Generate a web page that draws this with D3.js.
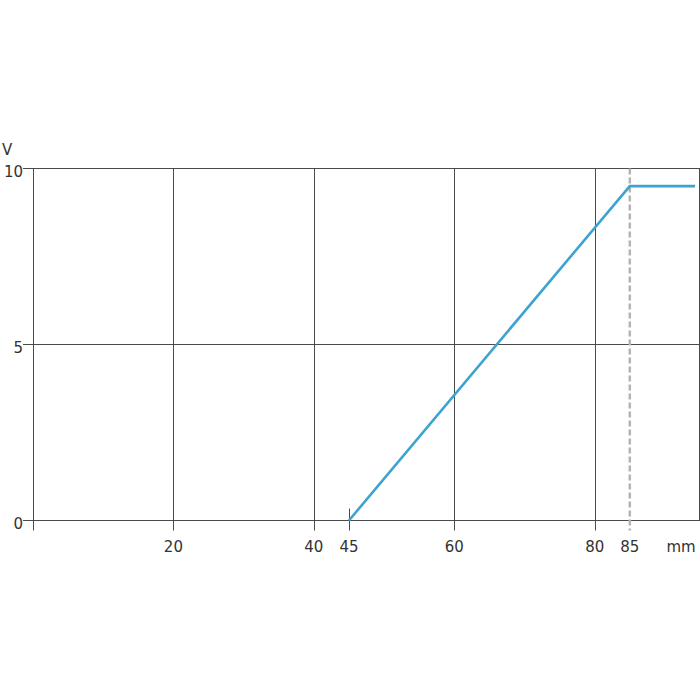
<!DOCTYPE html>
<html><head><meta charset="utf-8">
<script src="https://cdn.jsdelivr.net/npm/d3@7"></script>
<style>body{margin:0;background:#fff}svg{display:block}</style>
</head><body>
<script>
// Data
const xGridTicks = [20, 40, 60, 80];
const xLabelTicks = [20, 40, 45, 60, 80, 85];
const yTicks = [0, 5, 10];
const lineX = [45, 85, 94.3];
const lineY = [0, 9.5, 9.5];
const markerTick = 45;
const dashedTick = 85;
const xUnit = "mm";
const yUnit = "V";

(function () {
const W = 700, H = 700;
const svg = d3.select("body").append("svg").attr("width", W).attr("height", H);
const x = d3.scaleLinear().domain([0, 95]).range([33, 700]);
const y = d3.scaleLinear().domain([0, 10]).range([520.5, 168.5]);
const gridColor = "#4a4a4a";
const font = "DejaVu Sans, Verdana, sans-serif";
const yTop = y(10), yBottom = y(0);

// horizontal grid lines incl. outward ticks
svg.append("g").selectAll("line").data(yTicks).join("line")
  .attr("x1", 23).attr("x2", 700)
  .attr("y1", d => y(d)).attr("y2", d => y(d))
  .attr("stroke", gridColor).attr("stroke-width", 1);

// left axis
svg.append("line").attr("x1", x(0) + 0.5).attr("x2", x(0) + 0.5)
  .attr("y1", yTop).attr("y2", yBottom + 10).attr("stroke", gridColor);
// right border
svg.append("line").attr("x1", 699.5).attr("x2", 699.5)
  .attr("y1", yTop).attr("y2", yBottom).attr("stroke", gridColor);

// vertical grid lines
svg.append("g").selectAll("line").data(xGridTicks).join("line")
  .attr("x1", d => Math.round(x(d)) + 0.5).attr("x2", d => Math.round(x(d)) + 0.5)
  .attr("y1", yTop).attr("y2", yBottom + 10)
  .attr("stroke", gridColor).attr("stroke-width", 1);

// short tick at 45
svg.append("line")
  .attr("x1", Math.round(x(markerTick)) + 0.5).attr("x2", Math.round(x(markerTick)) + 0.5)
  .attr("y1", yBottom - 12).attr("y2", yBottom + 10)
  .attr("stroke", gridColor);

// dashed line at 85
svg.append("line")
  .attr("x1", x(dashedTick)).attr("x2", x(dashedTick))
  .attr("y1", yTop).attr("y2", yBottom + 10)
  .attr("stroke", "#b4b4b4").attr("stroke-width", 2.5)
  .attr("stroke-dasharray", "6,3");

// data line
const pts = lineX.map((d, i) => [d, lineY[i]]);
svg.append("path").datum(pts)
  .attr("d", d3.line().x(d => x(d[0])).y(d => y(d[1])))
  .attr("fill", "none").attr("stroke", "#3ea3d2").attr("stroke-width", 2.6);

// y labels
svg.append("g").selectAll("text").data(yTicks).join("text")
  .attr("x", 23).attr("y", d => y(d) + 8)
  .attr("text-anchor", "end")
  .attr("font-family", font).attr("font-size", 15).attr("fill", "#333")
  .text(d => d);

// x labels
svg.append("g").selectAll("text").data(xLabelTicks).join("text")
  .attr("x", d => x(d)).attr("y", 552)
  .attr("text-anchor", "middle")
  .attr("font-family", font).attr("font-size", 15).attr("fill", "#333")
  .text(d => d);

svg.append("text").attr("x", 681).attr("y", 552).attr("text-anchor", "middle")
  .attr("font-family", font).attr("font-size", 15).attr("fill", "#333").text(xUnit);
svg.append("text").attr("x", 2).attr("y", 155)
  .attr("font-family", font).attr("font-size", 15).attr("fill", "#333").text(yUnit);
})();
</script>
</body></html>
